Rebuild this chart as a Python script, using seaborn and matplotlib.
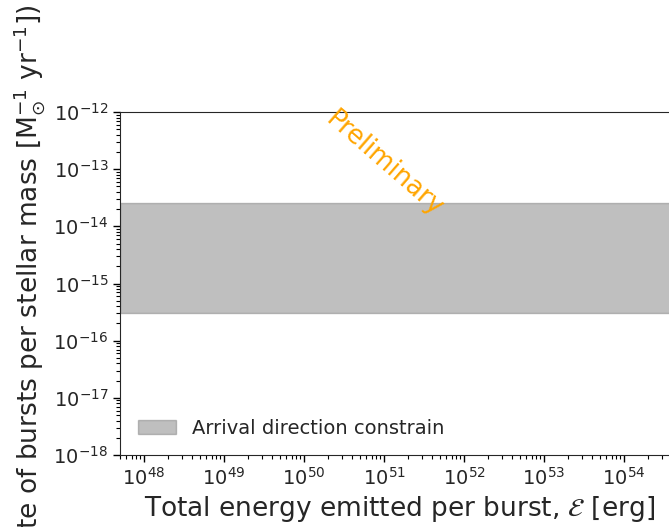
import matplotlib
matplotlib.use("Agg")
import matplotlib.pyplot as plt
from matplotlib.ticker import LogLocator, NullFormatter
import seaborn as sns

# Energy span of the plot and the arrival-direction band limits
energy_limits = [5e47, 5e54]
band_lower = [3.1e-16, 3.1e-16]
band_upper = [2.6e-14, 2.6e-14]
rate_limits = [1e-18, 1e-12]
band_label = "Arrival direction constrain"
watermark = "Preliminary"

sns.set_style("ticks")
plt.rcParams["font.family"] = ["DejaVu Sans"]
plt.rcParams["mathtext.fontset"] = "dejavusans"

fig = plt.figure(figsize=(6.69, 5.27), dpi=100)
ax = fig.add_axes([120 / 669, 72 / 527, 560 / 669, 343 / 527])

ax.fill_between(energy_limits, band_lower, band_upper, color="gray", alpha=0.5,
                label=band_label)

ax.set_xscale("log")
ax.set_yscale("log")
ax.set_xlim(*energy_limits)
ax.set_ylim(*rate_limits)

for axis in (ax.xaxis, ax.yaxis):
    axis.set_major_locator(LogLocator(base=10, numticks=100))
    axis.set_minor_locator(LogLocator(base=10, subs=range(2, 10), numticks=100))
    axis.set_minor_formatter(NullFormatter())

ax.tick_params(axis="both", which="major", labelsize=14, length=5, width=1,
               color="black")
ax.tick_params(axis="both", which="minor", length=3, width=0.8, color="black")
ax.set_xlabel(r"Total energy emitted per burst, $\mathcal{E}$ [erg]", fontsize=19)
ax.set_ylabel(r"Rate of bursts per stellar mass [M$_{\odot}^{-1}$ yr$^{-1}$])", fontsize=19)

ax.text(1e51, 1.25e-13, watermark, color="orange", fontsize=18.5, rotation=-41,
        ha="center", va="center", rotation_mode="anchor")

ax.legend(loc="lower left", frameon=False, fontsize=14)

fig.savefig("out.png", dpi=100)
